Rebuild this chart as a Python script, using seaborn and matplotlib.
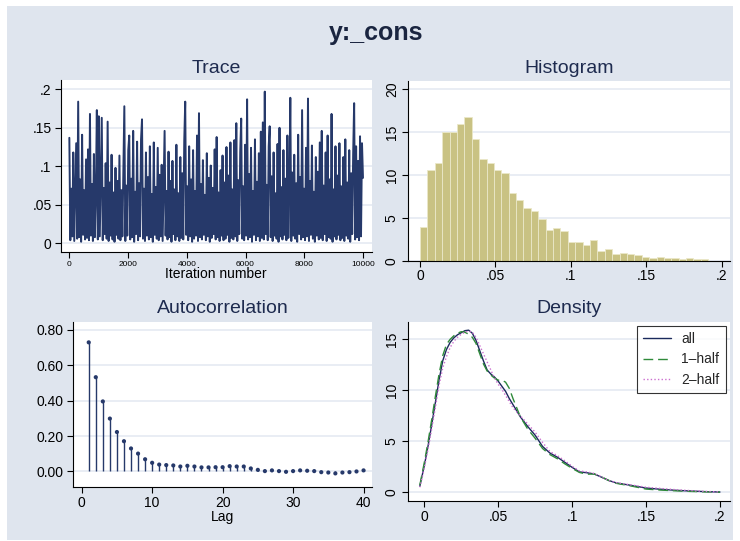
import numpy as np
import pandas as pd
import seaborn as sns
from matplotlib import pyplot as plt
from matplotlib.patches import Rectangle

# ---- data ----
# MCMC trace, one value every ~33 iterations
trace_values = [
    0.137, 0.004, 0.071, 0.009, 0.118, 0.003, 0.064, 0.130, 0.006, 0.184,
    0.008, 0.083, 0.002, 0.141, 0.011, 0.069, 0.005, 0.109, 0.007, 0.122,
    0.004, 0.168, 0.010, 0.077, 0.003, 0.116, 0.008, 0.062, 0.173, 0.005,
    0.165, 0.009, 0.088, 0.163, 0.004, 0.072, 0.012, 0.104, 0.006, 0.158,
    0.003, 0.079, 0.010, 0.115, 0.005, 0.066, 0.002, 0.098, 0.011, 0.081,
    0.006, 0.114, 0.004, 0.069, 0.009, 0.093, 0.178, 0.003, 0.075, 0.010,
    0.121, 0.140, 0.005, 0.084, 0.008, 0.146, 0.002, 0.067, 0.012, 0.132,
    0.004, 0.078, 0.009, 0.135, 0.161, 0.006, 0.071, 0.003, 0.118, 0.010,
    0.086, 0.005, 0.126, 0.008, 0.064, 0.002, 0.131, 0.011, 0.073, 0.006,
    0.124, 0.004, 0.089, 0.009, 0.102, 0.003, 0.076, 0.146, 0.010, 0.068,
    0.005, 0.119, 0.008, 0.081, 0.002, 0.107, 0.012, 0.070, 0.004, 0.128,
    0.009, 0.065, 0.003, 0.112, 0.007, 0.091, 0.005, 0.133, 0.184, 0.011,
    0.074, 0.004, 0.126, 0.009, 0.083, 0.002, 0.121, 0.006, 0.068, 0.010,
    0.140, 0.003, 0.169, 0.008, 0.077, 0.005, 0.108, 0.011, 0.063, 0.004,
    0.117, 0.009, 0.085, 0.002, 0.101, 0.007, 0.072, 0.012, 0.122, 0.005,
    0.138, 0.008, 0.066, 0.003, 0.095, 0.010, 0.114, 0.004, 0.079, 0.006,
    0.125, 0.011, 0.088, 0.002, 0.131, 0.007, 0.070, 0.005, 0.134, 0.009,
    0.156, 0.003, 0.082, 0.012, 0.119, 0.162, 0.006, 0.074, 0.004, 0.128,
    0.010, 0.187, 0.005, 0.090, 0.008, 0.124, 0.002, 0.068, 0.011, 0.135,
    0.004, 0.080, 0.009, 0.117, 0.003, 0.145, 0.007, 0.157, 0.005, 0.197,
    0.012, 0.076, 0.004, 0.126, 0.152, 0.008, 0.087, 0.003, 0.118, 0.010,
    0.065, 0.006, 0.129, 0.002, 0.150, 0.009, 0.073, 0.005, 0.121, 0.011,
    0.084, 0.004, 0.140, 0.007, 0.069, 0.189, 0.003, 0.092, 0.010, 0.115,
    0.006, 0.078, 0.002, 0.141, 0.012, 0.086, 0.005, 0.173, 0.008, 0.071,
    0.004, 0.124, 0.009, 0.188, 0.003, 0.081, 0.011, 0.127, 0.006, 0.067,
    0.002, 0.112, 0.010, 0.093, 0.005, 0.131, 0.007, 0.146, 0.004, 0.075,
    0.012, 0.118, 0.003, 0.140, 0.008, 0.083, 0.006, 0.168, 0.002, 0.070,
    0.009, 0.126, 0.005, 0.088, 0.011, 0.130, 0.004, 0.074, 0.007, 0.112,
    0.003, 0.135, 0.010, 0.079, 0.006, 0.121, 0.002, 0.091, 0.012, 0.116,
    0.182, 0.005, 0.126, 0.008, 0.107, 0.004, 0.139, 0.009, 0.130, 0.085,
]
trace_iter = np.linspace(1, 10000, len(trace_values))

# histogram (density scale), bins of width ~0.0049 starting at 0
hist_width = 0.0049
hist_heights = [
    3.89, 10.58, 11.44, 14.98, 14.98, 15.95, 16.81, 14.20, 11.83, 11.36,
    10.54, 10.27, 7.86, 7.08, 6.15, 5.76, 4.82, 3.58, 3.81, 3.46,
    2.18, 2.14, 1.83, 2.41, 1.09, 1.40, 0.78, 0.86, 0.78, 0.62,
    0.39, 0.31, 0.43, 0.31, 0.27, 0.19, 0.27, 0.16, 0.16,
]

# autocorrelation, lags 1..40
ac_lags = list(range(1, 41))
ac_values = [
    0.730, 0.533, 0.396, 0.299, 0.223, 0.171, 0.130, 0.101, 0.069, 0.049,
    0.039, 0.036, 0.034, 0.028, 0.032, 0.028, 0.023, 0.023, 0.024, 0.024,
    0.030, 0.028, 0.028, 0.017, 0.009, 0.002, 0.006, 0.002, -0.002, 0.002,
    0.006, 0.004, 0.002, -0.004, -0.006, -0.011, -0.006, -0.004, 0.000, 0.006,
]

# kernel density estimates
dens_x = [
    -0.003, -0.0015, 0.0, 0.0025, 0.005, 0.0075, 0.01, 0.0125, 0.015, 0.0175,
    0.02, 0.0225, 0.025, 0.0275, 0.03, 0.0325, 0.035, 0.0375, 0.04, 0.0425,
    0.045, 0.0475, 0.05, 0.0525, 0.055, 0.0575, 0.06, 0.065, 0.07, 0.075,
    0.08, 0.085, 0.09, 0.095, 0.1, 0.105, 0.11, 0.115, 0.12, 0.125,
    0.13, 0.14, 0.15, 0.16, 0.17, 0.18, 0.19, 0.2,
]
dens_all = [
    0.6, 1.6, 2.6, 4.5, 6.6, 8.8, 11.0, 12.9, 14.0, 14.7,
    15.15, 15.45, 15.65, 15.85, 15.9, 15.6, 14.9, 13.9, 12.9, 12.0,
    11.6, 11.3, 10.9, 10.4, 9.9, 9.2, 8.6, 7.4, 6.45, 5.6,
    4.5, 3.85, 3.45, 2.95, 2.45, 2.0, 1.92, 1.8, 1.48, 1.15,
    0.92, 0.68, 0.42, 0.3, 0.2, 0.13, 0.07, 0.03,
]
dens_half1 = [
    0.7, 1.8, 2.9, 4.9, 7.1, 9.4, 11.6, 13.4, 14.5, 15.0,
    15.35, 15.6, 15.75, 15.7, 15.5, 15.2, 14.6, 13.6, 12.6, 11.9,
    11.5, 11.2, 11.0, 11.0, 10.8, 10.2, 9.2, 7.4, 6.2, 5.3,
    4.3, 3.7, 3.3, 2.8, 2.35, 1.95, 1.78, 1.8, 1.5, 1.15,
    0.88, 0.62, 0.32, 0.22, 0.15, 0.09, 0.05, 0.02,
]
dens_half2 = [
    0.5, 1.4, 2.4, 4.2, 6.2, 8.3, 10.5, 12.2, 13.3, 14.2,
    14.8, 15.2, 15.5, 15.7, 15.8, 15.7, 15.2, 14.4, 13.6, 12.8,
    12.0, 11.2, 10.6, 10.1, 9.5, 8.9, 8.3, 7.5, 6.7, 5.9,
    4.9, 4.0, 3.6, 3.1, 2.55, 2.1, 2.0, 1.85, 1.5, 1.15,
    0.95, 0.72, 0.5, 0.38, 0.26, 0.17, 0.09, 0.04,
]

NAVY = "#26396a"
BAR = "#c9c283"
BG = "#dfe5ee"
GRID = "#e3e8f1"
TXT = "#1e2b4f"

sns.set_style("white")
plt.rcParams["font.family"] = ["Liberation Sans", "DejaVu Sans"]

W, H = 740, 541
fig = plt.figure(figsize=(W / 100, H / 100), dpi=100, facecolor="white")
fig.patches.append(Rectangle((7 / W, 1 / H), 726 / W, 534 / H, transform=fig.transFigure,
                             facecolor=BG, edgecolor="none", zorder=-10))


def px_axes(left, top, right, bottom):
    return fig.add_axes([left / W, (H - bottom) / H, (right - left) / W, (bottom - top) / H])


def px_text(x, y, s, **kw):
    fig.text(x / W, (H - y) / H, s, ha="center", va="baseline", **kw)


def style_axes(ax, rotate_y=False):
    ax.set_facecolor("white")
    for side in ("top", "right"):
        ax.spines[side].set_visible(False)
    for side in ("left", "bottom"):
        ax.spines[side].set_color("black")
        ax.spines[side].set_linewidth(0.8)
    ax.tick_params(direction="out", length=4.3, width=0.8, colors="black", labelsize=10, pad=2.5,
                   left=True, bottom=True)
    ax.yaxis.grid(True, color=GRID, linewidth=1.1)
    ax.set_axisbelow(True)
    ax.set_xlabel("")
    ax.set_ylabel("")
    if rotate_y:
        for lab in ax.get_yticklabels():
            lab.set_rotation(90)
            lab.set_va("center")


# Trace
ax1 = px_axes(61, 80, 372, 252)
sns.lineplot(x=trace_iter, y=trace_values, ax=ax1, color=NAVY, linewidth=1.4)
ax1.set_xlim(-283, 10307)
ax1.set_ylim(-0.0113, 0.2121)
ax1.set_yticks([0, 0.05, 0.1, 0.15, 0.2])
ax1.set_yticklabels(["0", ".05", ".1", ".15", ".2"])
ax1.set_xticks([0, 2000, 4000, 6000, 8000, 10000])
style_axes(ax1)
ax1.tick_params(axis="x", labelsize=6, pad=2.5)

# Histogram
ax2 = px_axes(408.3, 80.7, 730, 260.7)
n_bins = len(hist_heights)
edges = np.arange(n_bins + 1) * hist_width
hist_df = pd.DataFrame({"x": (edges[:-1] + edges[1:]) / 2, "density": hist_heights})
sns.histplot(data=hist_df, x="x", weights="density", bins=n_bins, binrange=(edges[0], edges[-1]),
             ax=ax2, color=BAR, alpha=1, edgecolor="#ebe8c9", linewidth=0.6)
ax2.set_xlim(-0.00776, 0.2055)
ax2.set_ylim(0, 21.0)
ax2.set_yticks([0, 5, 10, 15, 20])
ax2.set_xticks([0, 0.05, 0.1, 0.15, 0.2])
ax2.set_xticklabels(["0", ".05", ".1", ".15", ".2"])
style_axes(ax2, rotate_y=True)
ax2.tick_params(axis="x", pad=1.5)

# Autocorrelation
ax3 = px_axes(73.3, 321.7, 372, 486.7)
ax3.vlines(ac_lags, 0, ac_values, color=NAVY, linewidth=1)
sns.scatterplot(x=ac_lags, y=ac_values, ax=ax3, color=NAVY, s=9, edgecolor="none", zorder=3)
ax3.set_xlim(-1.19, 41.2)
ax3.set_ylim(-0.0862, 0.8468)
ax3.set_yticks([0, 0.2, 0.4, 0.6, 0.8])
ax3.set_yticklabels(["0.00", "0.20", "0.40", "0.60", "0.80"])
ax3.set_xticks([0, 10, 20, 30, 40])
style_axes(ax3)

# Density
ax4 = px_axes(408.3, 321.7, 730, 500.7)
sns.lineplot(x=dens_x, y=dens_all, ax=ax4, color="#1b2a5c", linewidth=1, label="all")
sns.lineplot(x=dens_x, y=dens_half1, ax=ax4, color="#2f8a3a", linewidth=1,
             linestyle=(0, (7, 3.5)), label="1\u2013half")
sns.lineplot(x=dens_x, y=dens_half2, ax=ax4, color="#cc6fd0", linewidth=1,
             linestyle=(0, (1, 1.6)), label="2\u2013half")
ax4.set_xlim(-0.0108, 0.2068)
ax4.set_ylim(-0.82, 16.73)
ax4.set_yticks([0, 5, 10, 15])
ax4.set_xticks([0, 0.05, 0.1, 0.15, 0.2])
ax4.set_xticklabels(["0", ".05", ".1", ".15", ".2"])
style_axes(ax4, rotate_y=True)
leg = ax4.legend(loc="upper right", fontsize=10, frameon=True, fancybox=False, handlelength=2.0,
                 handletextpad=0.75, borderaxespad=0.3, labelspacing=0.45, borderpad=0.45)
leg.get_frame().set_edgecolor("black")
leg.get_frame().set_linewidth(0.8)

# titles and axis titles
px_text(376, 40, "y:_cons", fontsize=18, fontweight="bold", color="#1a2540")
px_text(216, 72.7, "Trace", fontsize=14, color=TXT)
px_text(569, 72.7, "Histogram", fontsize=14, color=TXT)
px_text(222.5, 313.3, "Autocorrelation", fontsize=14, color=TXT)
px_text(568.8, 313.3, "Density", fontsize=14, color=TXT)
px_text(216.3, 278.3, "Iteration number", fontsize=10, color="black")
px_text(222.8, 521, "Lag", fontsize=10, color="black")

fig.savefig("out.png", dpi=100, facecolor="white")
